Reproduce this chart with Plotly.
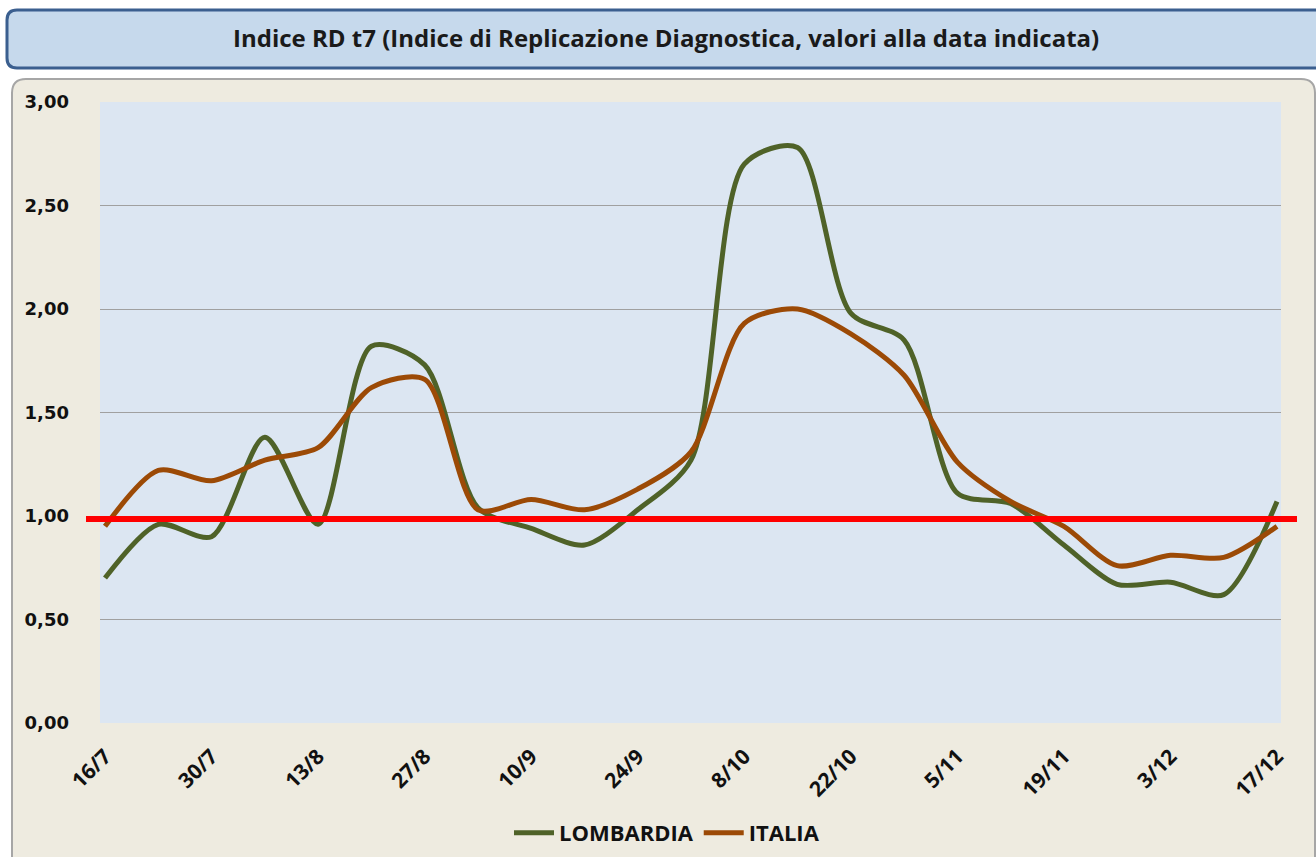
import plotly.graph_objects as go

dates = ["16/7", "23/7", "30/7", "6/8", "13/8", "20/8", "27/8", "3/9", "10/9", "17/9",
         "24/9", "1/10", "8/10", "15/10", "22/10", "29/10", "5/11", "12/11", "19/11",
         "26/11", "3/12", "10/12", "17/12"]
lombardia = [0.70, 0.96, 0.90, 1.38, 0.96, 1.82, 1.73, 1.04, 0.94, 0.86,
             1.03, 1.27, 2.70, 2.78, 1.98, 1.85, 1.11, 1.06, 0.86, 0.67,
             0.68, 0.62, 1.07]
italia = [0.95, 1.22, 1.17, 1.27, 1.33, 1.62, 1.66, 1.03, 1.08, 1.03,
          1.13, 1.31, 1.93, 2.00, 1.88, 1.68, 1.26, 1.07, 0.95, 0.76,
          0.81, 0.80, 0.95]
threshold = 0.985
y_ticks = [0, 0.5, 1.0, 1.5, 2.0, 2.5, 3.0]
y_ticktext = ["0,00", "0,50", "1,00", "1,50", "2,00", "2,50", "3,00"]

W, H = 1316, 857
L, R, T, B = 100, 1281, 102, 723


def px(x):
    return (x - L) / (R - L)


def py(y):
    return (B - y) / (B - T)


def rounded(x0, y0, x1, y1, r):
    def p(x, y):
        return f"{px(x):.5f},{py(y):.5f}"
    return (f"M {p(x0 + r, y0)} L {p(x1 - r, y0)} Q {p(x1, y0)} {p(x1, y0 + r)} "
            f"L {p(x1, y1 - r)} Q {p(x1, y1)} {p(x1 - r, y1)} L {p(x0 + r, y1)} "
            f"Q {p(x0, y1)} {p(x0, y1 - r)} L {p(x0, y0 + r)} Q {p(x0, y0)} {p(x0 + r, y0)} Z")


idx = list(range(len(dates)))

fig = go.Figure()
fig.add_trace(go.Scatter(x=idx, y=lombardia, mode="lines", name="LOMBARDIA",
                         line=dict(color="#4f6228", width=5, shape="spline", smoothing=0.8)))
fig.add_trace(go.Scatter(x=idx, y=italia, mode="lines", name="ITALIA",
                         line=dict(color="#9c4a06", width=5, shape="spline", smoothing=0.8)))

shapes = [
    dict(type="path", xref="paper", yref="paper", path=rounded(7, 10, 1340, 68, 10),
         fillcolor="#c6d9ec", line=dict(color="#3b5f8f", width=3), layer="below"),
    dict(type="path", xref="paper", yref="paper", path=rounded(12, 79, 1315, 880, 14),
         fillcolor="#eeebe0", line=dict(color="#a6a6a6", width=2), layer="below"),
    dict(type="rect", xref="paper", yref="paper", x0=0, x1=1, y0=0, y1=1,
         fillcolor="#dce6f2", line=dict(width=0), layer="below"),
    dict(type="line", xref="paper", yref="y", x0=px(86), x1=px(1297), y0=threshold, y1=threshold,
         line=dict(color="#ff0000", width=6), layer="above"),
]

fig.update_layout(
    width=W, height=H,
    margin=dict(l=L, r=W - R, t=T, b=H - B, autoexpand=False),
    paper_bgcolor="white",
    plot_bgcolor="rgba(0,0,0,0)",
    shapes=shapes,
    showlegend=True,
    legend=dict(orientation="h", x=px(667), xanchor="center", y=py(833), yanchor="middle",
                font=dict(family="Open Sans", size=22, color="#111111", weight="bold"),
                bgcolor="rgba(0,0,0,0)", itemwidth=40, traceorder="normal"),
    annotations=[dict(text="Indice RD t7 (Indice di Replicazione Diagnostica, valori alla data indicata)",
                      xref="paper", yref="paper", x=px(666), y=py(38), xanchor="center", yanchor="middle",
                      showarrow=False,
                      font=dict(family="Open Sans", size=24, color="#1a1a1a", weight="bold"))],
    xaxis=dict(range=[-0.094, 22.075], tickvals=idx[::2], ticktext=dates[::2], tickangle=-45,
               showgrid=False, zeroline=False, showline=False, ticks="",
               tickfont=dict(family="Open Sans", size=21, color="#111111", weight="bold"),
               ticklabelstandoff=16),
    yaxis=dict(range=[0, 3], tickvals=y_ticks, ticktext=y_ticktext, showgrid=True,
               gridcolor="#a0a0a0", gridwidth=1, zeroline=False, showline=False, ticks="",
               tickfont=dict(family="DejaVu Sans", size=18, color="#111111", weight="bold"),
               ticklabelstandoff=30),
    font=dict(family="Open Sans"),
)

fig.write_html("out.html", config={"displayModeBar": False},
               post_script="document.body.style.margin='0';document.body.style.overflow='hidden';")
